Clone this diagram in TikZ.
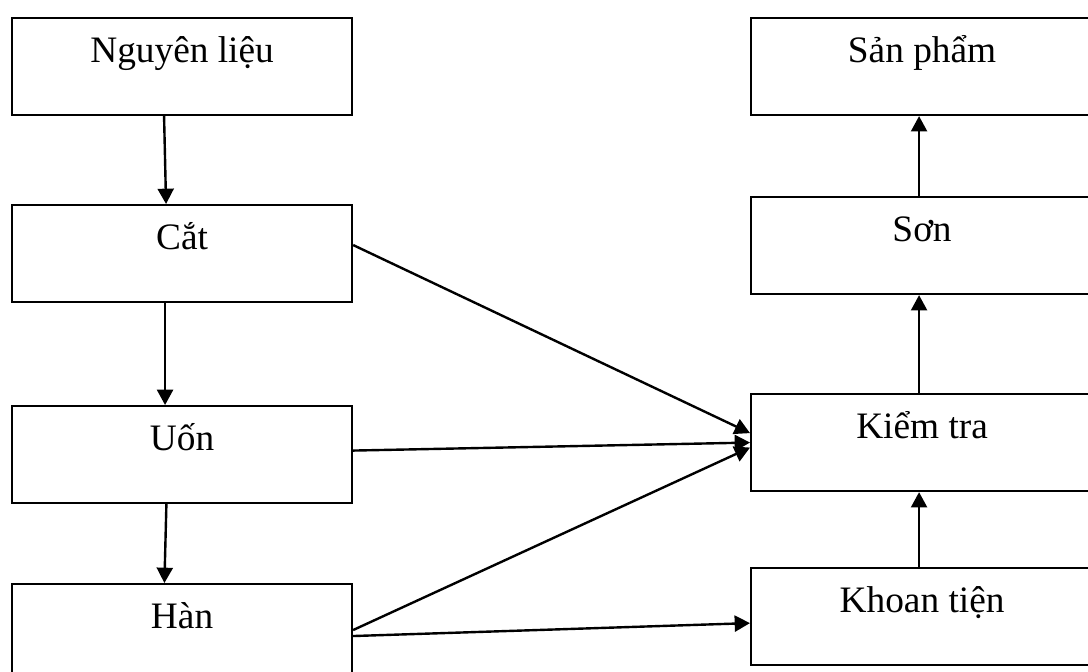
\documentclass[tikz,border=0pt]{standalone}
\usepackage{fontspec}
\setmainfont{Liberation Serif}
\usetikzlibrary{arrows.meta}
\begin{document}
\begin{tikzpicture}[x=0.75pt,y=-0.75pt,
  box/.style={draw, line width=1.6pt, anchor=north west, inner sep=0pt,
    text height=33pt, text depth=39.75pt, minimum width=#1,
    font=\fontsize{28}{33}\selectfont},
  box/.default=255pt,
  flow/.style={line width=1.8pt, -{Triangle[length=11.5pt,width=12pt]}}]
\useasboundingbox (0,0) rectangle (1088,671);
\clip (0,0) rectangle (1088,671);
% left column
\node[box] (nl) at (11,17) {Nguyên liệu};
\node[box] (cat) at (11,204) {Cắt};
\node[box] (uon) at (11,405) {Uốn};
\node[box] (han) at (11,583) {Hàn};
% right column
\node[box=256.5pt] (sp) at (750,17) {Sản phẩm};
\node[box=256.5pt] (son) at (750,196) {Sơn};
\node[box=256.5pt] (kt) at (750,393) {Kiểm tra};
\node[box=256.5pt] (kh) at (750,567) {Khoan tiện};
% vertical flows
\draw[flow] ([xshift=-13.5pt]nl.south) -- ([xshift=-12pt]cat.north);
\draw[flow] ([xshift=-12.75pt]cat.south) -- ([xshift=-12.75pt]uon.north);
\draw[flow] ([xshift=-11.75pt]uon.south) -- ([xshift=-13.25pt]han.north);
\draw[flow] ([xshift=-2.25pt]son.north) -- ([xshift=-2.25pt]sp.south);
\draw[flow] ([xshift=-2.25pt]kt.north) -- ([xshift=-2.25pt]son.south);
\draw[flow] ([xshift=-2.25pt]kh.north) -- ([xshift=-2.25pt]kt.south);
% diagonal flows
\draw[flow] ([yshift=6.4pt]cat.east) -- ([yshift=7.1pt]kt.west);
\draw[flow] ([yshift=3pt]uon.east) -- (kt.west);
\draw[flow] ([yshift=1.9pt]han.east) -- ([yshift=-3.75pt]kt.west);
\draw[flow] ([yshift=-2.6pt]han.east) -- ([yshift=-4.9pt]kh.west);
\end{tikzpicture}
\end{document}
